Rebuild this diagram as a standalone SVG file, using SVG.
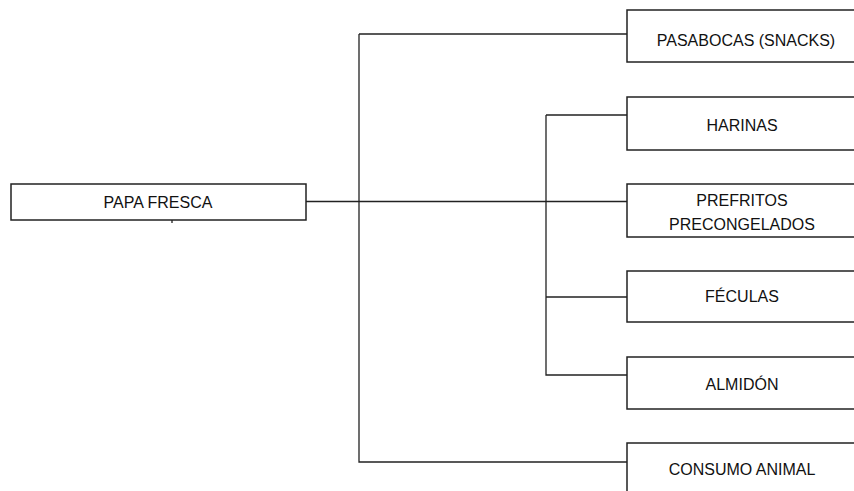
<svg xmlns="http://www.w3.org/2000/svg" width="854" height="491" viewBox="0 0 854 491">
<style>
.box{fill:#fff;stroke:#222;stroke-width:1.5}
.ln{fill:none;stroke:#222;stroke-width:1.3}
text{font-family:"Liberation Sans",Arial,sans-serif;font-size:16px;fill:#111;text-anchor:middle}
</style>
<rect width="854" height="491" fill="#fff"/>
<g id="connectors">
<path class="ln" d="M306 201.5H627"/>
<path class="ln" d="M359 34V462H627M359 34H627"/>
<path class="ln" d="M546 115V375H627M546 115H627M546 297H627"/>
<path class="ln" d="M172 220V223"/>
</g>
<g id="papa-fresca"><rect class="box" x="11" y="184" width="295" height="36"/><text x="158" y="208">PAPA FRESCA</text></g>
<g id="pasabocas"><rect class="box" x="627" y="10" width="234" height="52"/><text x="746" y="46">PASABOCAS (SNACKS)</text></g>
<g id="harinas"><rect class="box" x="627" y="97" width="234" height="53"/><text x="742" y="131">HARINAS</text></g>
<g id="prefritos"><rect class="box" x="627" y="184" width="234" height="53"/><text x="742" y="206">PREFRITOS</text><text x="742" y="230">PRECONGELADOS</text></g>
<g id="feculas"><rect class="box" x="627" y="271" width="234" height="51"/><text x="742" y="302">FÉCULAS</text></g>
<g id="almidon"><rect class="box" x="627" y="357" width="234" height="52"/><text x="742" y="390">ALMIDÓN</text></g>
<g id="consumo-animal"><rect class="box" x="627" y="443" width="234" height="60"/><text x="742" y="475">CONSUMO ANIMAL</text></g>
</svg>
